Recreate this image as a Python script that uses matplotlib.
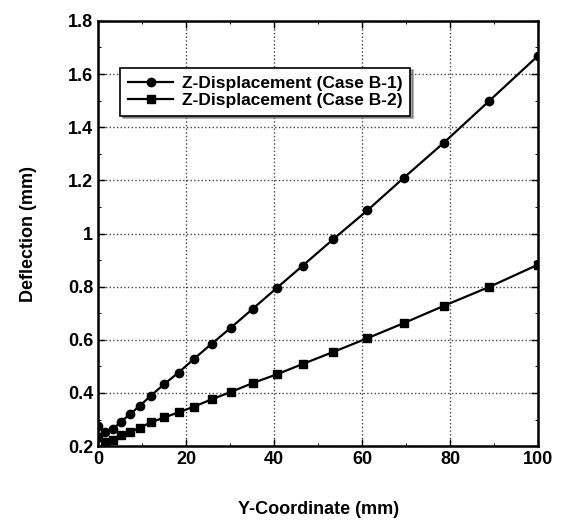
import matplotlib
matplotlib.use("Agg")
import matplotlib.pyplot as plt
from matplotlib.ticker import MultipleLocator

plt.rcParams['font.family'] = ['Liberation Sans', 'DejaVu Sans']
plt.rcParams['font.weight'] = 'bold'

# Y-coordinate positions of the nodes (mm)
y_coord = [0, 1.6, 3.3, 5.2, 7.3, 9.5, 12, 15, 18.3, 21.7, 25.8, 30.2, 35.1,
           40.6, 46.5, 53.4, 61.2, 69.5, 78.6, 88.9, 100]
# deflection (mm)
defl_b1 = [0.275, 0.254, 0.263, 0.292, 0.321, 0.352, 0.39, 0.433, 0.477, 0.527,
           0.585, 0.646, 0.716, 0.795, 0.879, 0.978, 1.087, 1.21, 1.342, 1.499, 1.669]
defl_b2 = [0.235, 0.216, 0.223, 0.242, 0.252, 0.27, 0.289, 0.308, 0.327, 0.348,
           0.376, 0.404, 0.437, 0.47, 0.509, 0.554, 0.606, 0.663, 0.728, 0.799, 0.883]

fig = plt.figure(figsize=(5.64, 5.23), dpi=100)
ax = fig.add_axes([0.174, 0.147, 0.78, 0.813])

ax.plot(y_coord, defl_b1, color='black', lw=1.6, marker='o', ms=6,
        label='Z-Displacement (Case B-1)')
ax.plot(y_coord, defl_b2, color='black', lw=1.6, marker='s', ms=6,
        label='Z-Displacement (Case B-2)')

ax.set_xlim(0, 100)
ax.set_ylim(0.2, 1.8)
ax.set_xticks([0, 20, 40, 60, 80, 100])
ax.set_yticks([0.2, 0.4, 0.6, 0.8, 1.0, 1.2, 1.4, 1.6, 1.8])
ax.set_yticklabels(['0.2', '0.4', '0.6', '0.8', '1', '1.2', '1.4', '1.6', '1.8'])
ax.yaxis.set_minor_locator(MultipleLocator(0.1))
ax.xaxis.set_minor_locator(MultipleLocator(10))
ax.tick_params(which='both', direction='in', top=True, right=True, labelsize=13)
ax.tick_params(which='major', length=5, width=1)
ax.tick_params(which='minor', length=2.5, width=0.7)
ax.grid(True, which='major', linestyle=':', color='#444444', lw=1)
for s in ax.spines.values():
    s.set_linewidth(1.8)

ax.set_xlabel('Y-Coordinate (mm)', fontsize=13, fontweight='bold', labelpad=24)
ax.set_ylabel('Deflection (mm)', fontsize=13, fontweight='bold', labelpad=22)

leg = ax.legend(loc='upper left', bbox_to_anchor=(0.05, 0.89), fontsize=12.5,
                frameon=True, fancybox=False, shadow=True, borderpad=0.45,
                handlelength=2.6, handletextpad=0.5, labelspacing=0.12,
                borderaxespad=0)
leg.get_frame().set_edgecolor('black')
leg.get_frame().set_linewidth(1.2)

fig.savefig('out.png', dpi=100)
